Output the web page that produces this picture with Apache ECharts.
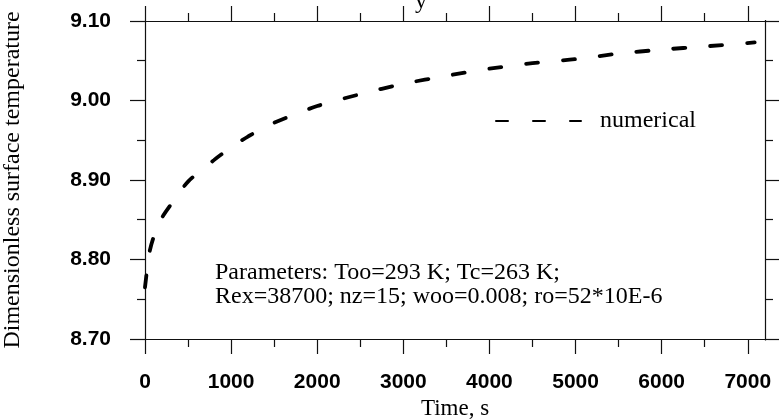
<!DOCTYPE html>
<html>
<head>
<meta charset="utf-8">
<script src="https://cdn.jsdelivr.net/npm/echarts@6/dist/echarts.min.js"></script>
<style>
  html, body { margin: 0; padding: 0; background: #fff; }
  #chart { width: 779px; height: 420px; }
</style>
</head>
<body>
<div id="chart"></div>
<script>
// ---- data ----
const timeValues = [0, 50, 100, 200, 300, 500, 800, 1000, 1200, 1500, 2000, 2500, 3000, 3500, 4000, 4500, 5000, 5500, 6000, 6500, 7080];
const tempValues = [8.765, 8.808, 8.828, 8.853, 8.869, 8.898, 8.925, 8.941, 8.955, 8.972, 8.993, 9.008, 9.021, 9.031, 9.040, 9.047, 9.052, 9.059, 9.064, 9.068, 9.073];
const seriesName = 'numerical';
const xAxisTitle = 'Time, s';
const yAxisTitle = 'Dimensionless surface temperature';
const paramLines = ['Parameters: Too=293 K; Tc=263 K;', 'Rex=38700; nz=15; woo=0.008; ro=52*10E-6'];
const croppedTitle = 'y';

const chart = echarts.init(document.getElementById('chart'), null, { renderer: 'canvas' });

const axisLineStyle = { color: '#111', width: 1.2 };
const sansBold = { fontFamily: 'Liberation Sans', fontWeight: 'bold', fontSize: 21, color: '#000' };
const serif = 'Liberation Serif';

function xAxisBase(pos, showLabels) {
  return {
    type: 'value', position: pos, min: 0, max: 7200, interval: 1000,
    axisLine: { show: true, onZero: false, lineStyle: axisLineStyle },
    axisTick: { show: true, inside: false, length: 15, lineStyle: axisLineStyle },
    minorTick: { show: true, splitNumber: 2, length: 8, lineStyle: axisLineStyle },
    splitLine: { show: false },
    axisLabel: showLabels ? Object.assign({ margin: 33, showMaxLabel: false, formatter: v => String(v) }, sansBold) : { show: false }
  };
}
function yAxisBase(pos, showLabels) {
  return {
    type: 'value', position: pos, min: 8.7, max: 9.1, interval: 0.1,
    axisLine: { show: true, onZero: false, lineStyle: axisLineStyle },
    axisTick: { show: true, inside: false, length: 15, lineStyle: axisLineStyle },
    minorTick: { show: true, splitNumber: 2, length: 8, lineStyle: axisLineStyle },
    splitLine: { show: false },
    axisLabel: showLabels ? Object.assign({ margin: 34, formatter: v => v.toFixed(2) }, sansBold) : { show: false }
  };
}

const xMain = xAxisBase('bottom', true);
xMain.name = xAxisTitle;
xMain.nameLocation = 'middle';
xMain.nameGap = 57;
xMain.nameTextStyle = { fontFamily: serif, fontSize: 23, color: '#000' };

const yMain = yAxisBase('left', true);
yMain.name = yAxisTitle;
yMain.nameLocation = 'middle';
yMain.nameGap = 120;
yMain.nameTextStyle = { fontFamily: serif, fontSize: 24, color: '#000' };

const option = {
  backgroundColor: '#fff',
  animation: false,
  grid: { left: 145, right: 14, top: 21, bottom: 81, containLabel: false, outerBoundsMode: 'none' },
  xAxis: [xMain, xAxisBase('top', false)],
  yAxis: [yMain, yAxisBase('right', false)],
  legend: {
    data: [seriesName],
    left: 490, top: 104,
    itemWidth: 85, itemHeight: 14,
    itemStyle: { opacity: 0 },
    textStyle: { fontFamily: serif, fontSize: 24, color: '#000', padding: [0, 0, 0, 14] }
  },
  series: [{
    name: seriesName,
    type: 'line',
    xAxisIndex: 0, yAxisIndex: 0,
    data: timeValues.map((t, i) => [t, tempValues[i]]),
    smooth: 0.25,
    symbol: 'none',
    showSymbol: false,
    lineStyle: { color: '#000', width: 3.8, type: [12, 25], cap: 'round' },
    itemStyle: { color: '#000' }
  }],
  graphic: [
    {
      type: 'text', left: 215, top: 261,
      style: { text: paramLines.join('\n'), font: '24px "Liberation Serif"', fill: '#000', lineHeight: 24 }
    },
    {
      type: 'text', x: 421, y: 14,
      style: { text: croppedTitle, font: '24px "Liberation Serif"', fill: '#000', align: 'center', verticalAlign: 'bottom' }
    },
    // hide the end-of-extent ticks at 7200 that the original does not have
    { type: 'rect', shape: { x: 762.5, y: 340.5, width: 6, height: 16 }, style: { fill: '#fff' }, z: 100 },
    { type: 'rect', shape: { x: 762.5, y: 3, width: 6, height: 17 }, style: { fill: '#fff' }, z: 100 }
  ]
};
chart.setOption(option);
</script>
</body>
</html>
